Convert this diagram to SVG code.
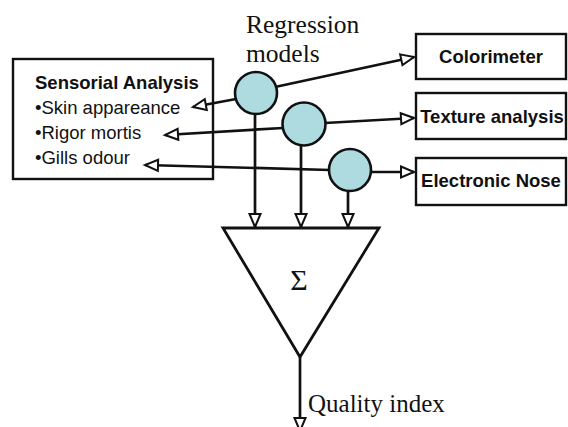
<svg xmlns="http://www.w3.org/2000/svg" width="568" height="427" viewBox="0 0 568 427">
<style>
.box{fill:#fff;stroke:#111;stroke-width:2.4}
.circ{fill:#aedbdf;stroke:#111;stroke-width:2.6}
.sans{font-family:"Liberation Sans",Arial,sans-serif;font-size:18.5px;fill:#111}
.bold{font-weight:bold}
.serif{font-family:"Liberation Serif","Times New Roman",serif;fill:#111}
.con{fill:none;stroke:#111;stroke-width:2.7;marker-end:url(#arr)}
</style>
<defs>
<marker id="arr" markerUnits="userSpaceOnUse" viewBox="-2 -2 17 15" refX="13" refY="5.5" markerWidth="17" markerHeight="15" orient="auto" overflow="visible">
<path d="M0,0 L13,5.5 L0,11 Z" fill="#fff" stroke="#111" stroke-width="2" stroke-linejoin="miter"/>
</marker>
</defs>
<g id="regression-label">
<text class="serif" x="246" y="33" font-size="25.5">Regression</text>
<text class="serif" x="246" y="62" font-size="25.5">models</text>
</g>
<g id="sensorial">
<rect class="box" x="13" y="59" width="200" height="120"/>
<text class="sans bold" x="35" y="89">Sensorial Analysis</text>
<text class="sans" x="35" y="114">•Skin appareance</text>
<text class="sans" x="35" y="139">•Rigor mortis</text>
<text class="sans" x="35" y="164">•Gills odour</text>
</g>
<g id="colorimeter">
<rect class="box" x="416" y="34" width="150" height="45"/>
<text class="sans bold" x="491" y="63" text-anchor="middle">Colorimeter</text>
</g>
<g id="texture">
<rect class="box" x="416" y="93" width="150" height="46"/>
<text class="sans bold" x="492" y="123" text-anchor="middle">Texture analysis</text>
</g>
<g id="enose">
<rect class="box" x="416" y="158" width="150" height="47"/>
<text class="sans bold" x="491" y="187" text-anchor="middle">Electronic Nose</text>
</g>
<g id="connectors">
<line class="con" x1="236" y1="99" x2="193" y2="107"/>
<line class="con" x1="283" y1="128" x2="165" y2="135"/>
<line class="con" x1="330" y1="170" x2="145" y2="165"/>
<line class="con" x1="275" y1="87" x2="414" y2="57"/>
<line class="con" x1="325" y1="123" x2="414" y2="118"/>
<line class="con" x1="371" y1="172" x2="414" y2="172"/>
<line class="con" x1="255" y1="114" x2="255" y2="227"/>
<line class="con" x1="301" y1="145" x2="301" y2="227"/>
<line class="con" x1="348" y1="191" x2="348" y2="227"/>
<line class="con" x1="300" y1="357" x2="300" y2="431"/>
</g>
<g id="model1"><circle class="circ" cx="256" cy="93" r="21"/></g>
<g id="model2"><circle class="circ" cx="304" cy="124" r="21.5"/></g>
<g id="model3"><circle class="circ" cx="350" cy="170" r="21"/></g>
<g id="sum">
<path d="M223,228 L379,228 L300,357 Z" fill="#fff" stroke="#111" stroke-width="2.8" stroke-linejoin="miter"/>
<text class="serif" x="299" y="290" font-size="30" text-anchor="middle">Σ</text>
</g>
<g id="quality-label">
<text class="serif" x="308" y="412" font-size="25">Quality index</text>
</g>
</svg>
